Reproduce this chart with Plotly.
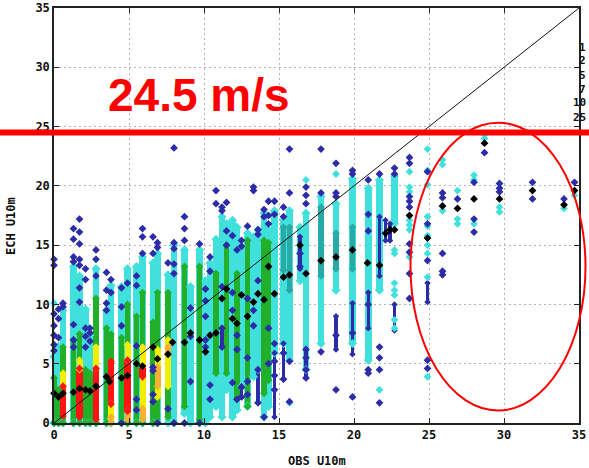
import plotly.graph_objects as go

# ---------------------------------------------------------------- data
AXIS_MIN, AXIS_MAX = 0, 35
TICKS = [0, 5, 10, 15, 20, 25, 30, 35]
THRESHOLD = 24.5
LEVEL_LABELS = ["1", "2", "5", "7", "10", "25"]

# dense stacks of points per OBS column: (obs, ech_low, ech_high)
CYAN_STACKS = [
    (0.0, 0, 5.6), (0.3, 0, 6.5), (0.6, 0, 9.5), (1.3, 0, 13.2), (1.7, 0, 12.4),
    (2.1, 0, 9.6), (2.4, 0, 7.4), (2.8, 0, 13.0), (3.5, 0, 9.5), (3.8, 0, 11.6),
    (4.5, 0, 11.5), (4.9, 0, 13.0), (5.5, 0, 13.2), (5.9, 0, 14.0), (6.6, 0, 13.5),
    (6.9, 0, 14.3), (7.6, 0, 12.5), (8.0, 0, 15.0), (8.7, 0.8, 14.6), (9.1, 0, 11.5),
    (9.7, 0, 14.6), (10.1, 0, 12.0), (10.4, 0.5, 13.5), (10.8, 1.4, 15.5), (11.2, 0.5, 17.4),
    (11.5, 2.8, 16.8), (11.9, 0.5, 17.1), (12.2, 1.1, 16.5), (12.5, 3.1, 14.9), (12.9, 1.4, 16.0),
    (13.3, 3.9, 15.7), (13.6, 4.5, 16.3), (14.0, 0.5, 17.7), (14.3, 1.4, 16.3), (14.7, 5.9, 17.9),
    (15.3, 6.7, 17.1), (15.7, 5.3, 17.9), (16.4, 12.0, 16.5), (16.8, 4.5, 17.7), (17.8, 6.7, 19.1),
    (18.8, 11.2, 18.5), (19.9, 6.7, 20.6), (20.95, 5.3, 19.8), (21.7, 11.2, 20.5), (22.7, 16.8, 20.8),
]
NAVY_STACKS = [
    (11.2, 6.4, 8.0), (12.5, 2.2, 3.1), (13.6, 1.7, 4.5), (14.7, 0.5, 5.9),
    (15.3, 3.7, 6.7), (16.4, 13.0, 15.7), (16.8, 3.8, 6.2), (18.8, 6.2, 9.0),
    (19.9, 5.8, 10.1), (20.95, 8.0, 11.0), (21.7, 12.4, 17.4), (22.1, 15.4, 17.1),
    (22.4, 15.4, 16.8), (22.7, 7.8, 10.0), (24.9, 10.2, 11.8),
]
TEAL_STACKS = [
    (15.3, 12.9, 16.5), (15.7, 11.2, 16.5), (17.8, 12.4, 18.2), (18.8, 13.0, 16.0),
    (19.9, 13.0, 16.5),
]
GREEN_STACKS = [
    (0.0, 0, 3.8), (0.3, 0, 2.8), (0.6, 0, 6.4), (1.3, 0, 7.0), (1.7, 0, 7.5),
    (2.1, 0, 4.5), (2.4, 0, 4.2), (2.8, 0, 10.5), (3.5, 0, 8.0), (3.8, 0, 7.5),
    (4.5, 0, 7.2), (4.9, 0, 10.0), (5.5, 0, 9.0), (5.9, 0, 11.0), (6.6, 0, 8.5),
    (6.9, 0, 11.0), (7.6, 0.5, 11.0), (8.7, 1.4, 13.2), (9.7, 0.3, 13.2), (10.8, 4.2, 12.6),
    (11.5, 4.2, 15.0), (12.2, 2.0, 12.6), (12.9, 1.4, 15.4), (14.0, 2.5, 15.4), (14.3, 3.6, 15.2),
]
YELLOW_STACKS = [
    (0.6, 3.1, 4.2), (1.7, 4.5, 5.3), (2.8, 4.6, 6.4), (3.8, 0.4, 1.6), (4.9, 5.3, 6.6),
    (5.9, 1.2, 6.4), (6.9, 2.2, 6.2), (7.6, 3.1, 7.0),
]
ORANGE_STACKS = [
    (3.8, 0.0, 0.5), (4.9, 0.3, 1.0), (5.9, 0.3, 1.2), (6.9, 3.1, 4.7), (7.6, 5.9, 6.4),
]
RED_STACKS = [
    (0.6, 0.6, 3.1), (1.7, 0.5, 4.6), (2.8, 0.3, 4.6), (3.8, 1.6, 5.2), (4.9, 1.0, 5.3),
    (5.9, 3.9, 4.6),
]

# single points (count 1 = navy, count 2 = cyan)
NAVY_X = (
    [0.0] * 7 + [0.3] * 3 + [0.6] * 2 + [1.3] * 7 + [1.7] * 7 + [2.1] * 5 + [2.4] * 3
    + [2.8] * 3 + [3.5] * 4 + [3.8] * 2 + [4.5] * 4 + [4.9] + [5.5] * 5 + [5.9] * 3
    + [6.6] * 6 + [6.9] * 3 + [7.6] * 2 + [8.0] * 6 + [8.7] * 4 + [9.1] * 3 + [9.7] * 2
    + [10.1] * 5 + [10.4] * 4 + [10.8] * 2 + [11.2] * 5 + [11.5] * 3 + [11.9] * 4
    + [12.2] * 4 + [12.5] * 4 + [12.9] * 5 + [13.3] * 4 + [13.6] * 5 + [14.0] * 3
    + [14.3] * 5 + [14.7] * 6 + [15.3] * 4 + [15.7] * 4 + [16.4] * 2 + [16.8] * 7
    + [17.8] * 3 + [18.8] * 5 + [19.9] * 4 + [20.95] * 6 + [21.7] * 5 + [22.7] * 2
    + [23.7] * 9 + [24.9] * 5 + [25.9] * 5 + [26.9] + [28.0] * 3 + [28.7] + [29.7] * 3
    + [31.9] * 2 + [34.0] + [34.7]
)
NAVY_Y = [
    13.8, 13.3, 9.2, 8.2, 7.4, 6.6, 6.1,
    9.6, 8.8, 7.2,
    10.1, 9.8,
    16.4, 15.5, 14.0, 13.6, 8.3, 7.0, 6.4,
    17.2, 16.1, 15.1, 13.8, 13.3, 11.4, 10.2,
    13.0, 12.1, 8.0, 7.3, 6.4,
    8.0, 7.6, 6.9,
    14.6, 13.8, 12.4,
    12.7, 11.2, 10.1, 9.5,
    12.1, 11.0,
    11.4, 9.8, 8.2, 0.0,
    11.8,
    12.4, 11.6, 6.5, 2.0, 1.1,
    16.4, 15.7, 14.3,
    15.7, 14.3, 4.7, 4.4, 2.4, 1.8,
    15.2, 14.8, 0.0,
    13.5, 1.2,
    23.2, 15.2, 14.7, 13.4, 12.6, 0.0,
    17.4, 16.4, 15.4, 0.0,
    9.7, 7.3, 3.5,
    15.1, 0.0,
    11.3, 10.3, 9.0, 7.0, 6.4,
    14.0, 12.8, 3.2, 2.0,
    19.6, 18.5,
    18.2, 17.9, 11.5, 8.0, 6.4,
    18.6, 16.2, 15.0,
    15.8, 11.0, 9.5, 3.4,
    14.6, 7.4, 6.2, 2.0,
    15.4, 14.9, 3.0, 2.2,
    16.6, 10.5, 5.5, 3.5, 2.4,
    19.9, 19.6, 9.5, 8.2,
    16.3, 15.9, 12.0, 4.5, 1.7,
    18.0, 17.4, 0.5,
    18.7, 17.5, 16.8, 8.0, 5.0,
    18.7, 17.6, 6.7, 5.2, 4.0, 2.8,
    18.2, 17.4, 5.9, 3.7,
    23.1, 19.4, 5.2, 1.8,
    14.3, 13.2,
    19.9, 19.2, 18.5, 6.2, 5.5, 4.5, 3.8,
    23.1, 19.4, 6.0,
    21.9, 19.4, 19.1, 7.4, 2.8,
    21.3, 21.0, 7.6, 2.2,
    20.5, 17.6, 16.2, 10.0, 4.5, 4.2,
    21.0, 6.4, 5.5, 4.5, 1.7,
    21.5, 21.0,
    22.4, 21.9, 19.1, 18.7, 18.2, 15.1, 14.4, 12.6, 10.5,
    21.2, 16.8, 13.7, 5.3, 4.6,
    19.4, 19.0, 14.3, 12.8, 12.5,
    18.9,
    20.3, 17.2, 16.1,
    22.8,
    20.2, 19.8, 19.5,
    20.3, 18.9,
    18.9,
    20.3,
]
CYAN_X = (
    [0.0] + [15.7] + [16.8] + [18.8] + [21.7] + [22.7] * 7 + [23.7] * 7 + [24.9] * 10
    + [25.9] * 3 + [26.9] * 3 + [28.0] * 3 + [28.7] * 2 + [29.7] * 2 + [34.0] + [34.7]
)
CYAN_Y = [
    10.1, 1.7, 20.5, 21.0, 2.8,
    14.6, 14.3, 11.8, 11.2, 10.8, 8.7, 8.0,
    21.2, 19.9, 19.5, 17.1, 16.7, 16.3, 14.0,
    23.1, 21.3, 20.1, 17.4, 16.6, 15.8, 15.0, 14.3, 12.3, 3.9,
    22.2, 21.8, 17.9,
    19.6, 17.2, 16.8,
    20.9, 20.5, 16.8,
    24.3, 24.0,
    18.2, 17.8,
    18.1,
    19.2,
]

# mean ECH value per OBS column
MEAN_X = [
    0.0, 0.3, 0.6, 1.3, 1.7, 2.1, 2.4, 2.8, 3.5, 3.7, 4.5, 4.9, 5.5, 5.9, 6.6, 6.9,
    7.6, 7.9, 8.7, 9.1, 9.7, 10.1, 10.4, 10.8, 11.2, 11.5, 11.9, 12.2, 12.5, 12.9,
    13.3, 13.6, 14.0, 14.3, 14.7, 15.3, 15.7, 16.4, 16.8, 17.8, 18.8, 19.9, 20.9,
    21.7, 22.1, 22.4, 22.7, 23.7, 24.9, 25.9, 26.9, 28.0, 28.7, 29.7, 31.9, 34.0, 34.7,
]
MEAN_Y = [
    2.5, 2.2, 2.5, 2.6, 2.9, 2.8, 2.7, 3.1, 3.9, 3.5, 3.8, 4.0, 5.0, 4.8, 6.4, 5.4,
    5.8, 6.8, 6.8, 7.6, 7.0, 6.0, 7.4, 7.6, 10.5, 11.3, 8.8, 8.4, 10.8, 9.0,
    10.2, 10.9, 10.4, 13.2, 10.9, 12.3, 12.5, 15.0, 12.6, 13.7, 14.0, 14.6, 13.5,
    13.3, 16.0, 16.3, 16.3, 17.5, 15.6, 18.3, 18.1, 18.9, 23.6, 18.9, 19.6, 18.4, 19.6,
]

# ---------------------------------------------------------------- styling
NAVY = "#2c2ca8"
CYAN = "#40e0dc"
TEAL = "#28aaa6"
GREEN = "#22b02a"
YELLOW = "#f2ee00"
ORANGE = "#f8b030"
RED = "#ff1414"
MONO = "DejaVu Sans Mono"

W, H = 589, 468
ML, MR, MT, MB = 54, 10, 8, 45
PW, PH = W - ML - MR, H - MT - MB


def px_x(p):
    return (p - ML) / PW


def px_y(p):
    return (H - MB - p) / PH


fig = go.Figure()


def add_stacks(stacks, color, width=0.46, cap=7):
    xs = [s[0] for s in stacks]
    lo = [s[1] for s in stacks]
    hi = [s[2] for s in stacks]
    fig.add_trace(go.Bar(
        x=xs, y=[h - l for l, h in zip(lo, hi)], base=lo, width=width,
        marker=dict(color=color, line=dict(width=0)), hoverinfo="skip",
    ))
    fig.add_trace(go.Scatter(
        x=xs + xs, y=lo + hi, mode="markers", cliponaxis=False,
        marker=dict(symbol="diamond", size=cap, color=color, line=dict(width=0)),
        hoverinfo="skip",
    ))


add_stacks(CYAN_STACKS, CYAN)
add_stacks(TEAL_STACKS, TEAL, width=0.36, cap=6)
add_stacks(NAVY_STACKS, NAVY, width=0.22, cap=5)
add_stacks(GREEN_STACKS, GREEN, width=0.38, cap=6)
add_stacks(YELLOW_STACKS, YELLOW, width=0.4, cap=6)
add_stacks(ORANGE_STACKS, ORANGE, width=0.4, cap=6)
add_stacks(RED_STACKS, RED, width=0.42, cap=6)

fig.add_trace(go.Scatter(
    x=CYAN_X, y=CYAN_Y, mode="markers", cliponaxis=False,
    marker=dict(symbol="diamond", size=6, color=CYAN, line=dict(width=0)),
))
fig.add_trace(go.Scatter(
    x=NAVY_X, y=NAVY_Y, mode="markers", cliponaxis=False,
    marker=dict(symbol="diamond", size=6, color=NAVY, line=dict(width=0)),
))

# 1:1 line
fig.add_trace(go.Scatter(
    x=[AXIS_MIN, AXIS_MAX], y=[AXIS_MIN, AXIS_MAX], mode="lines",
    line=dict(color="#111", width=1),
))

fig.add_trace(go.Scatter(
    x=MEAN_X, y=MEAN_Y, mode="markers", cliponaxis=False,
    marker=dict(symbol="diamond", size=6, color="#000", line=dict(width=0)),
))

axis_style = dict(
    range=[AXIS_MIN, AXIS_MAX], tickmode="array", tickvals=TICKS, automargin=False,
    showgrid=True, gridcolor="#b4b4b4", griddash="2px,3px", gridwidth=1,
    showline=True, linecolor="#222", linewidth=1.5, mirror="ticks",
    ticks="inside", ticklen=5, tickcolor="#222", zeroline=False,
    tickfont=dict(family=MONO, size=12, color="#111", weight="bold"),
)

fig.update_layout(
    width=W, height=H,
    margin=dict(l=ML, r=MR, t=MT, b=MB, autoexpand=False),
    paper_bgcolor="white", plot_bgcolor="white",
    showlegend=False, barmode="overlay", bargap=0,
    xaxis=axis_style, yaxis=axis_style,
)

annotations = [
    dict(text="OBS U10m", x=0.5, y=px_y(461), xref="paper", yref="paper",
         showarrow=False, xanchor="center", yanchor="middle",
         font=dict(family=MONO, size=12, color="#111", weight="bold")),
    dict(text="ECH U10m", x=px_x(11), y=px_y(226), xref="paper", yref="paper",
         showarrow=False, textangle=-90, xanchor="center", yanchor="middle",
         font=dict(family=MONO, size=12, color="#111", weight="bold")),
    dict(text=f"{THRESHOLD} m/s", x=px_x(199), y=px_y(95), xref="paper", yref="paper",
         showarrow=False, xanchor="center", yanchor="middle",
         font=dict(family="Liberation Sans", size=46, color="#ff0000", weight="bold")),
]
# count-level key at the right edge
for i, lab in enumerate(LEVEL_LABELS):
    annotations.append(dict(
        text=lab, x=px_x(588), y=px_y(47 + 14 * i), xref="paper", yref="paper",
        showarrow=False, xanchor="right", yanchor="middle",
        font=dict(family=MONO, size=11, color="#111", weight="bold"),
    ))
fig.update_layout(annotations=annotations)

# threshold line across the full width and the highlighted region
fig.add_shape(type="line", xref="paper", yref="y", x0=-0.2, x1=1.2,
              y0=THRESHOLD, y1=THRESHOLD, line=dict(color="#ff0000", width=6))
fig.add_shape(type="circle", xref="paper", yref="paper",
              x0=px_x(410.5), x1=px_x(585.5), y0=px_y(410.5), y1=px_y(122.7),
              line=dict(color="#ff0000", width=2))

fig.write_html("out.html")
